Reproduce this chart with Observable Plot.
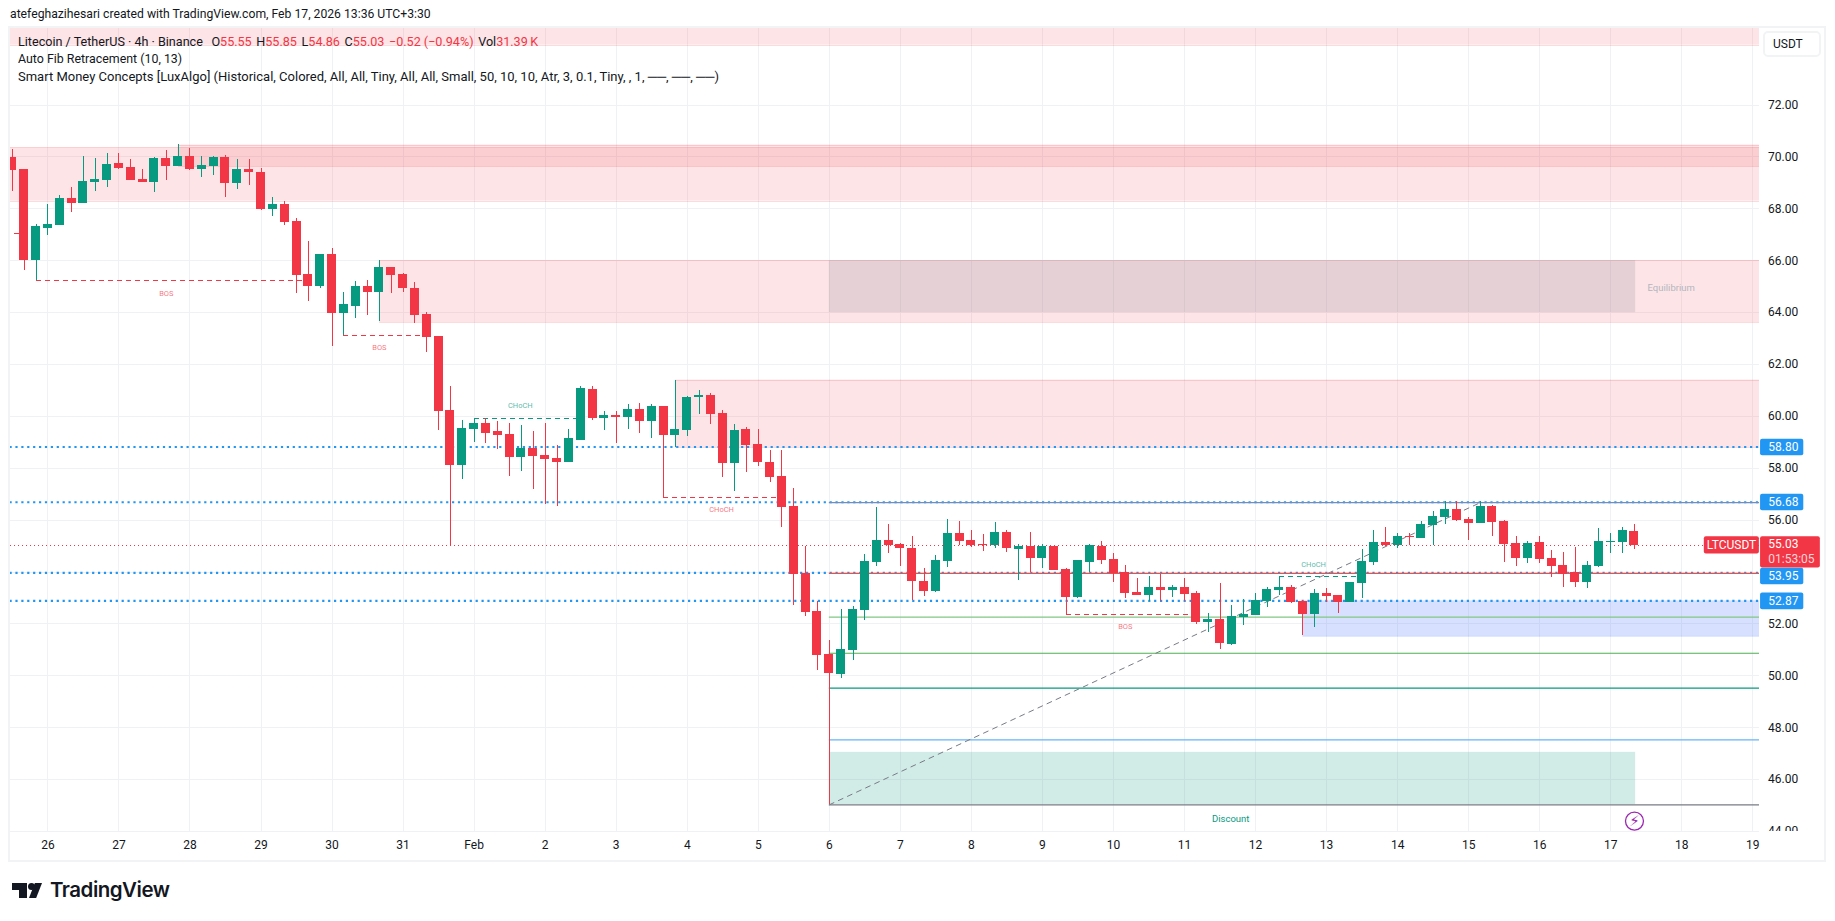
<!DOCTYPE html>
<html><head><meta charset="utf-8">
<script src="https://cdn.jsdelivr.net/npm/d3@7"></script>
<script src="https://cdn.jsdelivr.net/npm/@observablehq/plot@0.6"></script>
<style>
html,body{margin:0;padding:0;background:#fff;width:1835px;height:921px;overflow:hidden;font-family:Roboto,sans-serif;color:#131722}
#head{height:27px;line-height:29px;padding-left:10px;font-size:12.2px;color:#131722;white-space:nowrap}
#wrap{position:relative;height:833px}
#wrap svg{display:block;overflow:visible}
.abs{position:absolute}
#legend{left:18px;top:6px;line-height:17.3px;white-space:nowrap;color:#131722}
#legend div{height:17.3px}
#legend span{color:#f23645}
#legend b{font-weight:400;margin-left:4.6px}
#frame{left:8px;top:-1px;width:1818px;height:836px;border:2px solid #f2f3f5;box-sizing:border-box}
#mask{left:1760px;top:804px;width:66px;height:29px;background:#fff}
#unit{left:1763px;top:4px;width:58px;height:26px;box-sizing:border-box;background:#fff;border:2px solid #f2f3f5;border-radius:5px;font-size:12px;line-height:22px;padding-left:8px}
#brand{left:0;top:860px;width:300px;height:60px}
#brand div{position:absolute;background:#131722}
#word{background:none!important;left:50px;top:15px;font:600 20.5px/30px Inter,Roboto,sans-serif;color:#131722;letter-spacing:-.5px}
</style></head><body>
<div id="head">atefeghazihesari created with TradingView.com, Feb 17, 2026 13:36 UTC+3:30</div>
<div id="wrap"><div id="chart"></div>
<div class="abs" id="mask"></div>
<div class="abs" id="legend">
<div style="font-size:12.6px">Litecoin / TetherUS · 4h · Binance<b style="margin-left:8.5px">O<span>55.55</span></b><b>H<span>55.85</span></b><b>L<span>54.86</span></b><b>C<span>55.03</span></b><b><span>−0.52 (−0.94%)</span></b><b>Vol<span>31.39&#8201;K</span></b></div>
<div style="font-size:12.4px">Auto Fib Retracement (10, 13)</div>
<div style="font-size:13px">Smart Money Concepts [LuxAlgo] (Historical, Colored, All, All, Tiny, All, All, Small, 50, 10, 10, Atr, 3, 0.1, Tiny, , 1, ──, ──, ──)</div>
</div>
<div class="abs" id="unit">USDT</div>
<div class="abs" id="frame"></div>
</div>
<div class="abs" id="brand">
 <div style="left:12px;top:23px;width:15px;height:7px"></div>
 <div style="left:19px;top:23px;width:8px;height:15px"></div>
 <div style="left:28px;top:23px;width:7px;height:7px;border-radius:50%"></div>
 <div style="left:29px;top:23px;width:13px;height:15px;clip-path:polygon(45% 0,100% 0,55% 100%,0 100%)"></div>
 <div id="word">TradingView</div>
</div>
<script>
const firstIndex = -3;
const opens = [69.97,69.51,65.99,67.24,67.36,68.40,68.21,69.01,69.09,69.74,
69.59,69.13,69.01,69.94,69.63,70.01,69.51,69.63,69.97,68.97,
69.51,69.40,67.97,68.17,67.51,65.47,65.01,66.24,63.97,64.24,
65.01,64.78,65.74,65.47,64.94,63.94,63.09,60.21,58.09,59.51,
59.71,59.40,59.32,58.40,58.78,58.51,58.36,58.21,59.09,61.05,
59.90,60.05,59.97,60.28,59.82,60.40,59.28,59.44,60.71,60.82,
60.13,58.17,59.51,58.90,58.24,57.67,56.51,53.94,52.47,50.82,
50.05,50.97,52.51,54.36,55.21,55.05,54.90,53.63,53.24,54.40,
55.47,55.21,55.05,55.01,55.51,54.86,54.97,54.51,54.97,54.09,
53.01,54.36,54.97,54.47,53.97,53.21,53.09,53.40,53.28,53.40,
53.17,52.05,52.17,51.21,52.24,52.32,52.86,53.28,53.40,52.86,
52.36,53.17,53.09,52.82,53.55,54.36,55.13,55.01,55.36,55.28,
55.78,56.09,56.40,56.01,55.86,56.51,55.94,55.09,54.51,55.13,
54.51,54.24,53.97,53.59,54.21,55.14,55.13,55.55];
const highs = [70.28,69.51,67.40,68.17,68.51,68.82,70.01,69.94,70.13,70.13,
69.90,69.51,69.97,70.24,70.47,70.32,70.01,70.01,70.05,69.90,
69.90,69.55,68.44,68.28,67.63,66.74,66.24,66.47,64.78,65.21,
65.24,66.00,65.74,65.51,65.17,64.01,63.09,61.17,59.86,59.92,
59.92,59.82,59.74,59.63,59.40,59.74,58.86,59.51,61.17,61.17,
60.17,60.17,60.47,60.51,60.47,60.40,61.40,60.78,61.01,60.90,
60.21,59.67,59.59,59.51,58.67,58.67,57.24,54.97,52.87,51.36,
52.55,52.67,54.67,56.47,55.82,55.09,55.36,54.13,54.63,56.01,
55.94,55.59,55.44,55.90,55.59,55.05,55.51,55.05,55.01,54.13,
54.44,55.05,55.17,54.71,54.24,53.74,53.82,53.90,53.47,53.74,
53.24,52.40,53.55,52.71,52.94,53.17,53.40,53.81,53.47,52.90,
53.32,53.36,53.09,53.59,54.86,55.59,55.71,55.47,55.47,55.94,
56.32,56.71,56.71,56.09,56.73,56.55,55.97,55.36,55.17,55.36,
54.82,54.74,54.94,54.40,55.67,55.47,55.71,55.85];
const lows = [68.67,65.63,65.23,66.97,67.36,67.86,68.21,68.67,68.82,69.51,
69.09,69.01,68.63,69.09,69.63,69.47,69.21,69.28,68.44,68.74,
68.90,67.94,67.71,67.36,64.74,64.44,64.94,62.71,63.12,63.78,
63.90,63.67,64.74,64.78,63.59,62.47,59.44,55.04,57.55,59.01,
58.97,58.71,57.67,57.86,57.17,56.59,56.51,58.21,59.09,59.86,
59.47,58.97,59.51,59.36,59.13,56.88,58.81,59.24,60.09,59.67,
57.63,57.09,57.82,58.05,57.44,55.71,52.71,52.28,50.21,45.03,
49.90,50.59,52.13,54.21,54.71,54.21,52.90,53.05,53.21,54.17,
55.01,54.94,54.78,54.90,54.74,53.67,53.97,54.13,54.05,52.38,
52.97,53.97,54.28,53.59,52.97,53.09,52.86,52.86,53.01,52.86,
51.97,51.67,51.01,51.17,51.94,52.32,52.63,53.09,52.78,51.55,
51.86,52.82,52.40,52.82,52.97,54.24,54.97,54.90,55.01,55.28,
55.01,55.82,55.94,55.21,55.86,55.36,54.36,54.21,54.32,54.32,
53.78,53.40,53.40,53.36,54.17,54.71,54.71,54.86];
const closes = [69.47,65.99,67.32,67.40,68.40,68.21,69.05,69.13,69.71,69.55,
69.09,69.01,69.94,69.63,70.01,69.51,69.67,69.97,68.97,69.51,
69.40,67.97,68.17,67.47,65.44,65.01,66.24,63.97,64.32,65.01,
64.78,65.74,65.44,64.94,63.90,63.05,60.17,58.09,59.55,59.71,
59.36,59.28,58.40,58.78,58.47,58.32,58.24,59.13,61.09,59.90,
60.05,59.94,60.28,59.82,60.40,59.28,59.51,60.74,60.82,60.09,
58.17,59.47,58.86,58.21,57.63,56.47,53.90,52.44,50.78,50.09,
51.01,52.55,54.40,55.21,55.01,54.90,53.63,53.24,54.44,55.47,
55.17,55.01,55.03,55.51,54.90,54.97,54.51,54.97,54.05,53.01,
54.44,55.01,54.44,53.94,53.17,53.09,53.40,53.28,53.40,53.13,
52.05,52.17,51.24,52.28,52.36,52.90,53.32,53.40,52.82,52.36,
53.17,53.05,52.82,53.59,54.40,55.13,55.01,55.36,55.32,55.82,
56.13,56.40,55.97,55.86,56.51,55.90,55.05,54.51,55.09,54.47,
54.21,53.90,53.59,54.24,55.17,55.17,55.59,55.03];

const dayLabels = ["26","27","28","29","30","31","Feb","2","3","4","5","6","7","8","9","10","11","12","13","14","15","16","17","18","19"];
const dayIndex = dayLabels.map((_, k) => k * 6);
const priceGrid = [44,46,48,50,52,54,56,58,60,62,64,66,68,70,72];
const priceTicks = [44,46,48,50,52,56,58,60,62,64,66,68,70,72];

const xMin = -3.2, xMax = 144.56, yMin = 44, yMax = 74.99;
const RED = "#f23645", GREEN = "#089981", BLUE = "#2196f3";

const supplyZones = [
  {x1:xMin, x2:xMax, top:74.99, bottom:74.31},
  {x1:xMin, x2:xMax, top:70.35, bottom:68.30},
  {x1:11,   x2:xMax, top:70.46, bottom:69.63},
  {x1:28,   x2:xMax, top:66.00, bottom:63.62},
  {x1:53,   x2:xMax, top:61.40, bottom:58.80}
];
const equilibriumZone = [{x1:66, x2:134.1, top:66.00, bottom:64.00}];
const discountZone = [{x1:66, x2:134.1, top:47.05, bottom:45.03}];
const blueZone = [{x1:106, x2:xMax, top:52.89, bottom:51.54}];

const dottedLevels = [58.82, 56.69, 53.97, 52.89];
const fibLevels = [
  {price:56.68, color:"#6f8fc0"},
  {price:53.95, color:"#e5534b"},
  {price:52.26, color:"#81c784"},
  {price:50.87, color:"#4caf50"},
  {price:49.53, color:"#089981"},
  {price:47.53, color:"#64b5f6"},
  {price:45.03, color:"#787b86"}
];
const fibSwing = [{i:66, p:45.03}, {i:121, p:56.68}];

const structures = [
  {x1:-1, x2:22, p:65.23, color:RED,   label:"BOS",   lx:10,   ly:64.72},
  {x1:25, x2:32, p:63.12, color:RED,   label:"BOS",   lx:28,   ly:62.65},
  {x1:36, x2:45, p:59.90, color:GREEN, label:"CHoCH", lx:39.9, ly:60.43},
  {x1:52, x2:62, p:56.88, color:RED,   label:"CHoCH", lx:56.9, ly:56.41},
  {x1:86, x2:97, p:52.38, color:RED,   label:"BOS",   lx:91,   ly:51.90},
  {x1:104,x2:111,p:53.81, color:GREEN, label:"CHoCH", lx:106.9,ly:54.29}
];
const zoneLabels = [
  {i:137.1, p:64.96, text:"Equilibrium", color:"#b2b5be"},
  {i:99.9,  p:44.49, text:"Discount",    color:GREEN}
];
const blueTags = [
  {p:58.80, text:"58.80"},
  {p:56.68, text:"56.68"},
  {p:53.83, text:"53.95"},
  {p:52.87, text:"52.87"}
];
const lastPrice = 55.03;
const flashMark = [{i:134, p:44.40}];
const stray = [{x1:-2.8, x2:-2.4, p:67.04}];

const candles = opens.map((o, k) => ({i: firstIndex + k, o, h: highs[k], l: lows[k], c: closes[k], color: closes[k] < o ? RED : GREEN}));
const TAG_X1 = 144.65, TAG_X2 = 148.3, TAG_TEXT = 145.3;

const plot = Plot.plot({
  width: 1835, height: 833,
  marginTop: 0, marginBottom: 29, marginLeft: 9.5, marginRight: 76,
  style: {fontFamily: "Roboto, sans-serif", fontSize: "12px", background: "transparent", overflow: "visible", color: "#131722"},
  x: {type: "linear", domain: [xMin, xMax], axis: null},
  y: {type: "linear", domain: [yMin, yMax], axis: null},
  marks: [
    Plot.ruleX(dayIndex, {y1: yMin, y2: yMax, stroke: "#f0f1f4", shapeRendering: "crispEdges"}),
    Plot.ruleY(priceGrid, {x1: xMin, x2: xMax, stroke: "#f0f1f4", shapeRendering: "crispEdges"}),
    Plot.axisX({ticks: dayIndex, tickFormat: (d, k) => dayLabels[k], tickSize: 0, tickPadding: 9, anchor: "bottom", label: null, fontSize: 12, fill: "#131722"}),
    Plot.axisY({ticks: priceTicks, tickFormat: d => d.toFixed(2), tickSize: 0, tickPadding: 8.5, anchor: "right", label: null, fontSize: 12, fill: "#131722"}),

    Plot.rect(supplyZones, {x1: "x1", x2: "x2", y1: "bottom", y2: "top", fill: RED, fillOpacity: 0.13, clip: true}),
    Plot.ruleY(supplyZones, {y: "top", x1: "x1", x2: "x2", stroke: RED, strokeOpacity: 0.18, clip: true, shapeRendering: "crispEdges"}),
    Plot.ruleY(supplyZones, {y: "bottom", x1: "x1", x2: "x2", stroke: RED, strokeOpacity: 0.18, clip: true, shapeRendering: "crispEdges"}),
    Plot.rect(equilibriumZone, {x1: "x1", x2: "x2", y1: "bottom", y2: "top", fill: "#787b86", fillOpacity: 0.18}),
    Plot.rect(discountZone, {x1: "x1", x2: "x2", y1: "bottom", y2: "top", fill: GREEN, fillOpacity: 0.19}),
    Plot.rect(blueZone, {x1: "x1", x2: "x2", y1: "bottom", y2: "top", fill: "#2962ff", fillOpacity: 0.19}),
    Plot.ruleY(blueZone, {y: "bottom", x1: "x1", x2: "x2", stroke: "#2962ff", strokeOpacity: 0.2, strokeWidth: 1.5}),

    Plot.ruleY(dottedLevels, {x1: xMin, x2: xMax, stroke: BLUE, strokeWidth: 2.2, strokeDasharray: "2.2,3.7"}),
    Plot.ruleY([lastPrice], {x1: xMin, x2: xMax, stroke: RED, strokeWidth: 1, strokeDasharray: "1.5,2.5", shapeRendering: "crispEdges"}),
    Plot.ruleY(fibLevels, {y: "price", x1: 66, x2: xMax, stroke: "color", strokeWidth: 1.2}),
    Plot.line(fibSwing, {x: "i", y: "p", stroke: "#787b86", strokeWidth: 1, strokeDasharray: "5,5"}),

    Plot.ruleY(structures, {y: "p", x1: "x1", x2: "x2", stroke: "color", strokeWidth: 1, strokeDasharray: "5,4", shapeRendering: "crispEdges"}),
    Plot.text(structures, {x: "lx", y: "ly", text: "label", fill: "color", fillOpacity: 0.7, fontSize: 7.5}),
    Plot.ruleY(stray, {y: "p", x1: "x1", x2: "x2", stroke: RED, shapeRendering: "crispEdges"}),

    Plot.ruleX(candles, {x: "i", y1: "l", y2: "h", stroke: "color", strokeWidth: 1, clip: true, shapeRendering: "crispEdges"}),
    Plot.rect(candles, {x1: d => d.i - 0.38, x2: d => d.i + 0.38, y1: "o", y2: "c", fill: "color", clip: true, shapeRendering: "crispEdges"}),

    Plot.text(zoneLabels, {x: "i", y: "p", text: "text", fill: "color", fontSize: 9.5}),
    Plot.dot(flashMark, {x: "i", y: "p", r: 9, stroke: "#9c27b0", strokeWidth: 1.3, fill: "#fff"}),
    Plot.text(flashMark, {x: "i", y: "p", text: () => "⚡\uFE0E", fill: "#9c27b0", fontSize: 15, fontFamily: "DejaVu Sans"}),

    Plot.rect([{}], {x1: () => 139.9, x2: () => 144.55, y1: () => 54.70, y2: () => 55.36, fill: RED, rx: 2}),
    Plot.text([{}], {x: () => 142.2, y: () => 55.03, text: () => "LTCUSDT", fill: "#fff", fontSize: 12}),
    Plot.rect([{}], {x1: () => TAG_X1, x2: () => 149.7, y1: () => 54.16, y2: () => 55.36, fill: RED, rx: 2}),
    Plot.text([{}], {x: () => TAG_TEXT, y: () => 55.06, text: () => lastPrice.toFixed(2), fill: "#fff", fontSize: 12, textAnchor: "start"}),
    Plot.text([{}], {x: () => TAG_TEXT, y: () => 54.50, text: () => "01:53:05", fill: "#fff", fillOpacity: 0.8, fontSize: 12, textAnchor: "start"}),
    Plot.rect(blueTags, {x1: () => TAG_X1, x2: () => TAG_X2, y1: d => d.p - 0.32, y2: d => d.p + 0.32, fill: BLUE, rx: 2}),
    Plot.text(blueTags, {x: () => TAG_TEXT, y: "p", text: "text", fill: "#fff", fontSize: 12, textAnchor: "start"})
  ]
});
document.getElementById("chart").append(plot);
</script>
</body></html>
